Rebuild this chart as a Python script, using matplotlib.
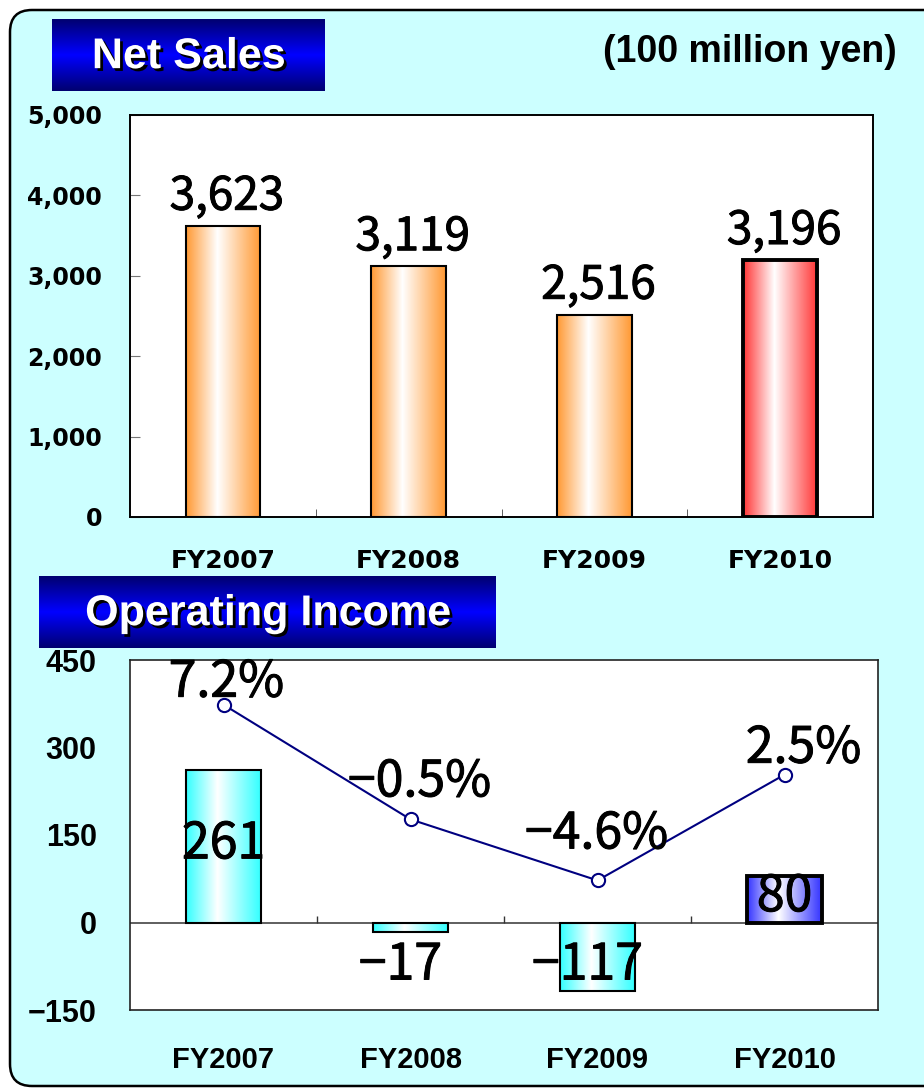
import numpy as np
import matplotlib.pyplot as plt
from matplotlib.colors import LinearSegmentedColormap
from matplotlib.patches import FancyBboxPatch
import matplotlib.patheffects as pe

# data
years = ['FY2007', 'FY2008', 'FY2009', 'FY2010']
net_sales = [3623, 3119, 2516, 3196]
op_income = [261, -17, -117, 80]
op_margin = [7.2, -0.5, -4.6, 2.5]

W, H = 924, 1088
fig = plt.figure(figsize=(W / 100, H / 100), dpi=100, facecolor='white')

JP = ['Noto Sans CJK JP', 'DejaVu Sans']
BOLD = ['Liberation Sans', 'DejaVu Sans']
# regular weight thickened a little, between regular and bold
THICK = [pe.withStroke(linewidth=0.7, foreground='black')]


def px_axes(x0, y0, x1, y1, **kw):
    # axes from pixel box (top-left origin)
    return fig.add_axes([x0 / W, 1 - y1 / H, (x1 - x0) / W, (y1 - y0) / H], **kw)


def grad_cmap(c, mid=0.42):
    return LinearSegmentedColormap.from_list('g', [(0, c), (mid, 'white'), (1, c)])


def gradient_bars(ax, x, vals, colors, lws, width=0.4):
    bars = ax.bar(x, vals, width=width, facecolor='none', edgecolor='black', zorder=3)
    g = np.linspace(0, 1, 256).reshape(1, -1)
    for b, c, lw in zip(bars, colors, lws):
        b.set_linewidth(lw)
        x0, y0 = b.get_x(), b.get_y()
        w, h = b.get_width(), b.get_height()
        im = ax.imshow(g, cmap=grad_cmap(c), extent=(x0, x0 + w, min(y0, y0 + h), max(y0, y0 + h)),
                       aspect='auto', zorder=2, interpolation='bilinear')
        im.set_clip_path(b)
    return bars


# background panel
bg = fig.add_axes([0, 0, 1, 1], zorder=-5)
bg.set_xlim(0, W)
bg.set_ylim(H, 0)
bg.axis('off')
bg.add_patch(FancyBboxPatch((10, 10), 940, 1076, boxstyle='round,pad=0,rounding_size=22',
                            facecolor='#CCFFFF', edgecolor='black', linewidth=1.8))

# title boxes
def title_box(x0, y0, x1, y1, text):
    tax = px_axes(x0, y0, x1, y1)
    v = np.concatenate([np.linspace(0, 1, 64), np.linspace(1, 0, 64)]).reshape(-1, 1)
    tax.imshow(v, cmap=LinearSegmentedColormap.from_list('b', ['#000070', '#0000FF']),
               aspect='auto', extent=(0, 1, 0, 1))
    tax.axis('off')
    tax.text(0.5, 0.47, text, ha='center', va='center', color='white', fontsize=31,
             fontweight='bold', family=BOLD,
             path_effects=[pe.SimplePatchShadow(offset=(2, -2), shadow_rgbFace='black', alpha=1),
                           pe.Normal()])

title_box(52, 19, 325, 91, 'Net Sales')
title_box(39, 576, 496, 648, 'Operating Income')
fig.text(897 / W, 1 - 52 / H, '(100 million yen)', ha='right', va='center', fontsize=27,
         fontweight='bold', family=BOLD)

x = np.arange(len(years))

# ---- Net sales
ax = px_axes(130, 115, 873, 517)
gradient_bars(ax, x, net_sales, ['#FF9933', '#FF9933', '#FF9933', '#FF3333'], [1.5, 1.5, 1.5, 2.8])
ax.set_xlim(-0.5, 3.5)
ax.set_ylim(0, 5000)
ax.set_yticks(range(0, 5001, 1000))
ax.set_yticklabels([f'{v:,}' for v in range(0, 5001, 1000)], fontsize=17, fontweight='bold',
                   family='DejaVu Sans')
ax.set_xticks(x)
ax.set_xticklabels(years, fontsize=18, fontweight='bold', family='DejaVu Sans')
ax.set_xticks([0.5, 1.5, 2.5], minor=True)
ax.tick_params(axis='x', which='major', length=0, pad=23)
ax.tick_params(axis='x', which='minor', direction='in', length=6, color='#444444')
ax.tick_params(axis='y', direction='in', length=7, color='#777777', pad=20)
for s in ax.spines.values():
    s.set_linewidth(1.4)
for xi, v in zip(x, net_sales):
    ax.annotate(f'{v:,}', (xi, v), xytext=(4, 5), textcoords='offset pixels', ha='center',
                va='bottom', fontsize=33, family=JP, path_effects=THICK, zorder=4)

# ---- Operating income
axb = px_axes(130, 660, 878, 1010)
gradient_bars(axb, x, op_income, ['#33FFFF', '#33FFFF', '#33FFFF', '#3333FF'], [1.5, 1.5, 1.5, 2.8])
axb.set_xlim(-0.5, 3.5)
axb.set_ylim(-150, 450)
axb.axhline(0, color='#333333', lw=1.1, zorder=1)
axb.vlines([0.5, 1.5, 2.5], 0, 12, color='#333333', lw=1, zorder=1)
axb.set_yticks(range(-150, 451, 150))
axb.set_yticklabels([str(v).replace('-', '\u2212') for v in range(-150, 451, 150)], fontsize=22,
                    fontweight='bold', family=BOLD)
axb.set_xticks(x)
axb.set_xticklabels(years, fontsize=21, fontweight='bold', family=BOLD)
axb.tick_params(axis='x', length=0, pad=26)
axb.tick_params(axis='y', length=0, pad=24)
for s in axb.spines.values():
    s.set_linewidth(1.2)
    s.set_color('#222222')
for xi, v in zip(x, op_income):
    lab = str(v).replace('-', '\u2212')
    if v > 0:
        axb.annotate(lab, (xi, v / 2), xytext=(0, 2), textcoords='offset pixels', ha='center',
                     va='center', fontsize=36, family=JP, path_effects=THICK, zorder=4)
    else:
        axb.annotate(lab, (xi, 0), xytext=(-10, -43), textcoords='offset pixels', ha='center',
                     va='center', fontsize=36, family=JP, path_effects=THICK, zorder=4)

ax2 = axb.twinx()
ax2.set_ylim(-13.3, 10.2)
ax2.axis('off')
ax2.plot(x, op_margin, color='#000080', lw=1.5, marker='o', ms=9.5, mfc='white', mec='#000080',
         mew=1.5, zorder=5)
pct_offsets = [(3, 22), (9, 37), (-1, 46), (19, 26)]
for xi, p, off in zip(x, op_margin, pct_offsets):
    ax2.annotate(f'{p}%'.replace('-', '\u2212'), (xi, p), xytext=off, textcoords='offset pixels',
                 ha='center', va='center', fontsize=36, family=JP, path_effects=THICK, zorder=6)

fig.savefig('out.png', dpi=100)
